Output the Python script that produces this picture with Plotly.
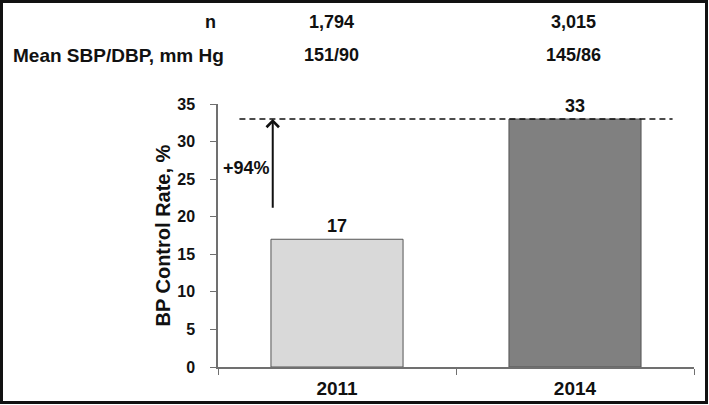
import plotly.graph_objects as go

years = ["2011", "2014"]
control_rate = [17, 33]
n_patients = ["1,794", "3,015"]
mean_bp = ["151/90", "145/86"]
increase_label = "+94%"
arrow_from = 21
bar_colors = ["#D9D9D9", "#808080"]

W, H = 709, 405
L, R, T, B = 218, 15, 104, 38
pw, ph = W - L - R, H - T - B

def px_x(p):
    return (p - L) / pw

def px_y(p):
    return (H - B - p) / ph

bold = dict(family="Liberation Sans, Arial, sans-serif", color="#111111", weight="bold")

def label(x, y, text, size=18, xanchor="center", xref="paper", yref="paper", **kw):
    fig.add_annotation(x=x, y=y, xref=xref, yref=yref, text=text, showarrow=False,
                       xanchor=xanchor, yanchor="middle",
                       font=dict(**bold, size=size), **kw)

fig = go.Figure()
fig.add_trace(go.Bar(
    x=years,
    y=control_rate,
    marker=dict(color=bar_colors, line=dict(color="#555555", width=1)),
    text=[str(v) for v in control_rate],
    textposition="outside",
    textfont=dict(**bold, size=18),
    cliponaxis=False,
    width=0.555,
))

# dashed reference at the 2014 level
fig.add_shape(type="line", xref="x", yref="y",
              x0=-0.41, x1=1.41, y0=control_rate[1], y1=control_rate[1],
              line=dict(color="#111111", width=1.5, dash="6px,4px"))

# arrow showing the increase
fig.add_annotation(x=-0.27, y=control_rate[1], ax=-0.27, ay=arrow_from,
                   xref="x", yref="y", axref="x", ayref="y",
                   showarrow=True, arrowhead=4, arrowsize=1.2, arrowwidth=2,
                   arrowcolor="#111111", text="")
label(px_x(246), 26.5, increase_label, yref="y")

# header rows
label(0, px_y(22), "n", xanchor="right")
label(px_x(226), px_y(55), "Mean SBP/DBP, mm Hg", size=19, xanchor="right")
for cx, n, bp in zip([331, 573], n_patients, mean_bp):
    label(px_x(cx), px_y(22), n)
    label(px_x(cx), px_y(55), bp)

# y axis title
label(px_x(162), 0.5, "BP Control Rate, %", size=20, textangle=-90)

# outer frame
fig.add_shape(type="rect", xref="paper", yref="paper",
              x0=px_x(1.5), x1=px_x(W - 2.5), y0=px_y(H - 2.5), y1=px_y(1.5),
              line=dict(color="#111111", width=3), layer="above")

fig.update_layout(
    width=W, height=H,
    margin=dict(l=L, r=R, t=T, b=B, autoexpand=False),
    plot_bgcolor="white", paper_bgcolor="white",
    showlegend=False,
    xaxis=dict(
        type="category", range=[-0.5, 1.5],
        showline=True, linecolor="#707070", linewidth=1.5,
        ticks="outside", tickson="boundaries", ticklen=6, tickcolor="#707070",
        ticklabelstandoff=3,
        tickfont=dict(**bold, size=19), showgrid=False,
    ),
    yaxis=dict(
        range=[0, 35], dtick=5, tickformat="d",
        showline=True, linecolor="#707070", linewidth=1.5,
        ticks="outside", ticklen=6, tickcolor="#707070", ticklabelstandoff=12,
        tickfont=dict(**bold, size=16), showgrid=False, zeroline=False,
    ),
)

fig.write_html("out.html", config={"displayModeBar": False},
               post_script="document.body.style.margin='0px';")
